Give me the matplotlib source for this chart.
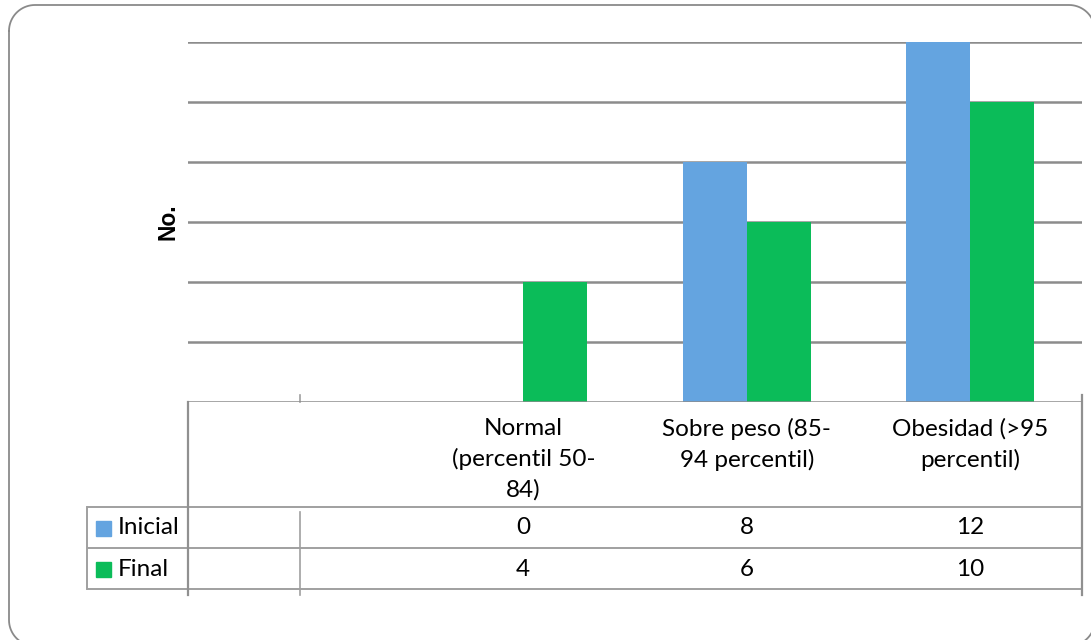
import numpy as np
import matplotlib
matplotlib.use("Agg")
import matplotlib.pyplot as plt
from matplotlib import transforms
from matplotlib.patches import Rectangle

# ---- data ----
categories = ["", "Normal\n(percentil 50-\n84)", "Sobre peso (85-\n94 percentil)", "Obesidad (>95\npercentil)"]
inicial = [np.nan, 0, 8, 12]
final = [np.nan, 4, 6, 10]
series_names = ["Inicial", "Final"]
colors = ["#64a4e0", "#0bbc59"]
y_ticks = [2, 4, 6, 8, 10, 12]

W, H = 1091, 640
fig = plt.figure(figsize=(W / 100, H / 100), dpi=100)

# full-figure overlay in pixel coordinates (origin top-left)
ov = fig.add_axes([0, 0, 1, 1], zorder=0)
ov.set_xlim(0, W)
ov.set_ylim(H, 0)
ov.axis("off")

# plotting area
left, right, top, bottom = 188, 1082, 42, 402
ax = fig.add_axes([left / W, 1 - bottom / H, (right - left) / W, (bottom - top) / H], zorder=1)
ax.patch.set_alpha(0)
n = len(categories)
x = np.arange(n)
bw = 64 / 224
for vals, col, off in [(inicial, colors[0], -0.5), (final, colors[1], 0.5)]:
    v = np.array(vals, dtype=float)
    ok = ~np.isnan(v)
    ax.bar(x[ok] + off * bw, v[ok], width=bw, color=col, zorder=2)
ax.set_xlim(-0.5, n - 0.5)
ax.set_ylim(0, 12)
ax.set_yticks(y_ticks)
ax.set_xticks([])
ax.tick_params(left=False, labelleft=False)
ax.grid(axis="y", color="#8c8c8c", linewidth=1.8, zorder=1)
for s in ax.spines.values():
    s.set_visible(False)
ax.axhline(0, color="#8c8c8c", linewidth=1.8, zorder=3)
ax.set_ylabel("No.", family="Liberation Sans", fontweight="bold", fontsize=16.5, labelpad=6)

# table: x from category scale, y in pixels
tr = transforms.blended_transform_factory(ax.transData, ov.transData)
font = "Lato"
fs = 17.5
line_col = "#a0a0a0"
txt_col = "#000000"

for i, lab in enumerate(categories):
    if lab:
        ov.text(i, 418, lab, transform=tr, ha="center", va="top", fontsize=fs,
                family=font, linespacing=1.5, color=txt_col)

row_y = [528, 569]
for vals, ry in zip([inicial, final], row_y):
    for i, v in enumerate(vals):
        if not np.isnan(v):
            ov.text(i, ry, f"{int(v)}", transform=tr, ha="center", va="center",
                    fontsize=fs, family=font, color=txt_col)

# legend keys in the table
for name, col, ry in zip(series_names, colors, row_y):
    ov.add_patch(Rectangle((96, ry - 7.5), 15, 15, color=col))
    ov.text(118, ry, name, ha="left", va="center", fontsize=fs, family=font, color=txt_col)

# table grid lines
for yy in [507, 548, 589]:
    ov.plot([87, right], [yy, yy], color=line_col, lw=1.4, solid_capstyle="butt")
ov.plot([87, 87], [507, 589], color=line_col, lw=1.4)
ov.plot([left, left], [bottom, 595], color="#909090", lw=1.6)
ov.plot([right, right], [395, 595], color="#909090", lw=1.6)
x_div = ax.transData.transform((0, 0))[0]
ov.plot([x_div, x_div], [395, bottom], color=line_col, lw=1.2)
ov.plot([x_div, x_div], [512, 595], color=line_col, lw=1.2)

# rounded chart border
bx0, by0, bx1, by1, r = 9, 5, 1095, 646, 26
t = np.linspace(0, np.pi / 2, 20)
px, py = [], []
for cx, cy, a0 in [(bx0 + r, by0 + r, np.pi), (bx1 - r, by0 + r, 1.5 * np.pi),
                   (bx1 - r, by1 - r, 0), (bx0 + r, by1 - r, 0.5 * np.pi)]:
    px.extend(cx + r * np.cos(a0 + t))
    py.extend(cy + r * np.sin(a0 + t))
px.append(px[0])
py.append(py[0])
ov.plot(px, py, color="#8a8a8a", lw=1.3)

fig.savefig("out.png", dpi=100)
